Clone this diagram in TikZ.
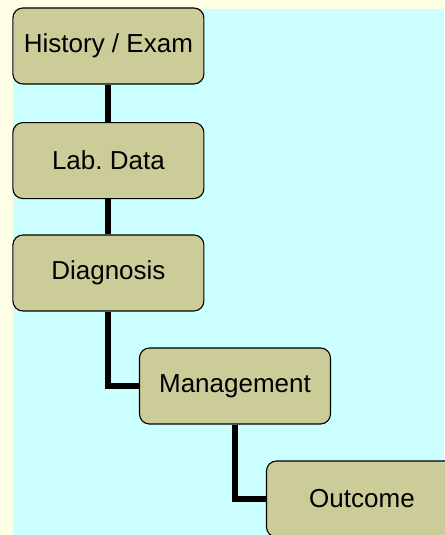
\documentclass[tikz,border=0pt]{standalone}
\usepackage{fontspec}
\setmainfont{Liberation Sans}
\usepackage{xcolor}
\usepackage{tikz}
\usetikzlibrary{arrows.meta,positioning,calc}

\definecolor{paleyellow}{HTML}{FFFFE6}
\definecolor{palecyan}{HTML}{CCFFFF}
\definecolor{khaki}{HTML}{CCCC99}

\begin{document}
\begin{tikzpicture}[
  stepbox/.style={rectangle,rounded corners=.25cm,fill=khaki,draw=black,line width=.8pt,
    minimum width=4.775cm,minimum height=1.9cm,inner sep=0pt,
    font=\fontsize{18.5}{22}\selectfont},
  link/.style={line width=4.2pt}]
\useasboundingbox (0,0) rectangle (11.1,13.375);
\fill[paleyellow] (0,0) rectangle (11.1,13.375);
\fill[palecyan] (.325,0) rectangle (11.1,13.15);
\coordinate (c1) at (2.71,12.225);
\coordinate (c2) at (2.71,9.36);
\coordinate (c3) at (2.71,6.55);
\coordinate (c4) at (5.875,3.725);
\coordinate (c5) at (9.05,.9);
\node[stepbox] (hist) at (c1) {History / Exam};
\node[stepbox] (lab) at (c2) {Lab.\ Data};
\node[stepbox] (diag) at (c3) {Diagnosis};
\node[stepbox] (mgmt) at (c4) {Management};
\node[stepbox] (out) at (c5) {Outcome};
\draw[link] (hist.south)--(lab.north);
\draw[link] (lab.south)--(diag.north);
\draw[link] (diag.south) |- (mgmt.west);
\draw[link] (mgmt.south) |- (out.west);
\end{tikzpicture}
\end{document}
